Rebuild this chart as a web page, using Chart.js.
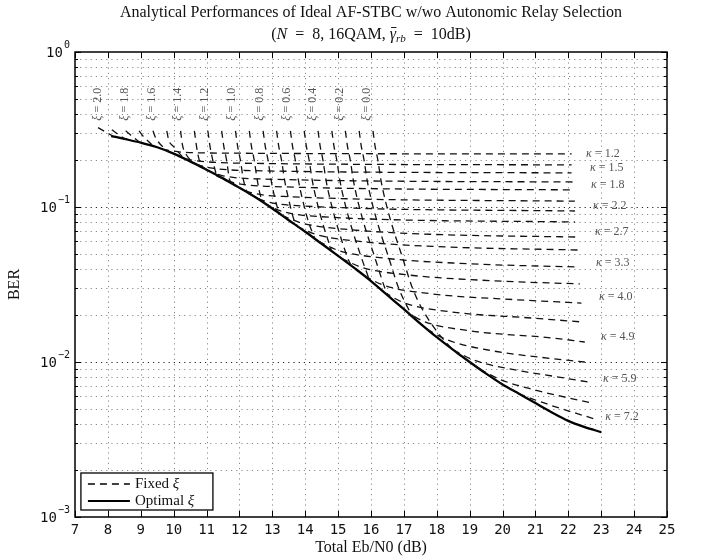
<!DOCTYPE html>
<html>
<head>
<meta charset="utf-8">
<script src="https://cdn.jsdelivr.net/npm/chart.js@4.4.0/dist/chart.umd.min.js"></script>
<style>
html, body { margin: 0; padding: 0; background: #fff; }
</style>
</head>
<body>
<canvas id="berChart" width="713" height="557"></canvas>
<script>
// axis ranges
var xMin = 7, xMax = 25;
var yMin = 0.001, yMax = 1;
var xTickValues = [7, 8, 9, 10, 11, 12, 13, 14, 15, 16, 17, 18, 19, 20, 21, 22, 23, 24, 25];
var yDecades = [-3, -2, -1, 0];

// optimal xi curve
var optimalX   = [8.1, 8.5, 9, 9.5, 10, 10.5, 11, 11.5, 12, 12.5, 13, 13.5, 14, 14.5, 15, 15.5, 16, 16.5, 17, 17.5, 18, 18.5, 19, 19.5, 20, 20.5, 21, 21.5, 22, 22.5, 23];
var optimalBer = [0.287, 0.275, 0.260, 0.243, 0.221, 0.197, 0.174, 0.153, 0.133, 0.115, 0.0977, 0.0822, 0.0692, 0.0579, 0.0484, 0.0403, 0.0333, 0.0270, 0.0219, 0.0177, 0.01445, 0.01197, 0.0100, 0.00841, 0.00716, 0.00624, 0.00543, 0.00473, 0.00417, 0.0038, 0.00353];

// constant kappa curves (fixed xi mesh, rows)
var kappaX = [
  [9.65, 10.15, 11.15, 22.1],
  [10.35, 10.85, 11.85, 22.1],
  [10.68, 11.18, 12.18, 22.1],
  [11.0, 11.5, 12.5, 22.15],
  [11.3, 11.8, 12.8, 22.15],
  [11.85, 12.35, 13.35, 22.2],
  [12.25, 12.75, 13.75, 22.2],
  [12.75, 13.25, 14.25, 22.2],
  [13.3, 13.9, 15.3, 17.8, 22.25],
  [13.75, 14.35, 15.75, 18.25, 22.3],
  [14.4, 15.0, 16.4, 18.9, 22.3],
  [15.1, 15.7, 17.1, 19.6, 22.35],
  [15.8, 16.4, 17.8, 20.3, 22.4],
  [16.4, 17.0, 18.4, 20.9, 22.45],
  [17.0, 17.6, 19.0, 21.5, 22.5],
  [17.7, 18.3, 19.7, 21.2, 22.5],
  [18.5, 19.1, 20.5, 21.6, 22.6],
  [19.3, 19.9, 21.0, 22.7],
  [19.85, 20.45, 21.35, 22.8]
];
var kappaBer = [
  [0.236, 0.227, 0.223, 0.220],
  [0.204, 0.197, 0.192, 0.187],
  [0.188, 0.178, 0.172, 0.166],
  [0.172, 0.159, 0.152, 0.145],
  [0.159, 0.144, 0.136, 0.129],
  [0.138, 0.124, 0.117, 0.109],
  [0.123, 0.1095, 0.102, 0.0942],
  [0.106, 0.0944, 0.0872, 0.080],
  [0.088, 0.0787, 0.0716, 0.0667, 0.064],
  [0.075, 0.0663, 0.0597, 0.0553, 0.0528],
  [0.060, 0.0525, 0.0468, 0.0431, 0.041],
  [0.0467, 0.0409, 0.0365, 0.0335, 0.0319],
  [0.0359, 0.0312, 0.0276, 0.0253, 0.024],
  [0.0282, 0.0241, 0.0211, 0.0192, 0.0181],
  [0.0216, 0.0183, 0.0159, 0.0143, 0.01346],
  [0.0163, 0.01394, 0.0118, 0.0107, 0.0100],
  [0.0120, 0.01034, 0.00879, 0.00806, 0.00743],
  [0.00902, 0.00775, 0.00659, 0.00544],
  [0.0075, 0.00634, 0.00536, 0.00429]
];

// constant xi curves (fixed xi mesh, columns), xi = 2.0 ... 0.0 step 0.1
var xiX = [
  [7.70, 8.15],
  [8.12, 8.30, 8.55],
  [8.54, 8.70, 9.00],
  [8.95, 9.05, 9.40],
  [9.37, 9.45, 9.85],
  [9.79, 9.85, 10.0, 10.3],
  [10.21, 10.27, 10.4, 10.65],
  [10.63, 10.69, 10.78, 11.0],
  [11.04, 11.10, 11.19, 11.30],
  [11.46, 11.52, 11.61, 11.70, 11.80],
  [11.88, 11.94, 12.03, 12.12, 12.23],
  [12.30, 12.36, 12.45, 12.54, 12.65, 12.75],
  [12.72, 12.78, 12.87, 12.96, 13.07, 13.2],
  [13.13, 13.19, 13.28, 13.37, 13.48, 13.68, 13.78],
  [13.55, 13.61, 13.70, 13.79, 13.90, 14.10, 14.30],
  [13.97, 14.03, 14.12, 14.21, 14.32, 14.52, 14.80],
  [14.39, 14.45, 14.54, 14.63, 14.74, 14.94, 15.29, 15.4],
  [14.81, 14.87, 14.96, 15.05, 15.16, 15.36, 15.71, 15.95],
  [15.22, 15.28, 15.37, 15.46, 15.57, 15.77, 16.12, 16.42, 16.5],
  [15.64, 15.70, 15.79, 15.88, 15.99, 16.19, 16.54, 16.84, 17.19, 17.3],
  [16.06, 16.12, 16.21, 16.30, 16.41, 16.61, 16.96, 17.26, 17.61, 18.41, 19.31]
];
var xiBer = [
  [0.325, 0.287],
  [0.315, 0.295, 0.272],
  [0.31, 0.29, 0.258],
  [0.31, 0.29, 0.245],
  [0.31, 0.28, 0.226],
  [0.31, 0.27, 0.245, 0.207],
  [0.31, 0.25, 0.215, 0.19],
  [0.31, 0.25, 0.20, 0.172],
  [0.31, 0.25, 0.20, 0.160],
  [0.31, 0.25, 0.20, 0.15, 0.141],
  [0.31, 0.25, 0.20, 0.15, 0.124],
  [0.31, 0.25, 0.20, 0.15, 0.116, 0.106],
  [0.31, 0.25, 0.20, 0.15, 0.116, 0.0912],
  [0.31, 0.25, 0.20, 0.15, 0.116, 0.08, 0.075],
  [0.31, 0.25, 0.20, 0.15, 0.116, 0.08, 0.062],
  [0.31, 0.25, 0.20, 0.15, 0.116, 0.08, 0.052],
  [0.31, 0.25, 0.20, 0.15, 0.116, 0.08, 0.047, 0.0418],
  [0.31, 0.25, 0.20, 0.15, 0.116, 0.08, 0.047, 0.0339],
  [0.31, 0.25, 0.20, 0.15, 0.116, 0.08, 0.047, 0.03, 0.0272],
  [0.31, 0.25, 0.20, 0.15, 0.116, 0.08, 0.047, 0.03, 0.021, 0.0192],
  [0.31, 0.25, 0.20, 0.15, 0.116, 0.08, 0.047, 0.03, 0.021, 0.0125, 0.0090]
];

// text annotations
var kappaLabels   = ['1.2', '1.5', '1.8', '2.2', '2.7', '3.3', '4.0', '4.9', '5.9', '7.2'];
var kappaLabelX   = [23.05, 23.17, 23.2, 23.26, 23.32, 23.35, 23.44, 23.5, 23.56, 23.63];
var kappaLabelBer = [0.220, 0.178, 0.139, 0.101, 0.0689, 0.0437, 0.0263, 0.0145, 0.0078, 0.00446];
var xiLabels   = ['2.0', '1.8', '1.6', '1.4', '1.2', '1.0', '0.8', '0.6', '0.4', '0.2', '0.0'];
var xiLabelX   = [7.70, 8.52, 9.34, 10.13, 10.95, 11.77, 12.62, 13.44, 14.23, 15.05, 15.87];
var xiLabelBer = 0.46;
var legendLabels = ['Fixed ', 'Optimal '];

var serif = '"Liberation Serif", "DejaVu Serif", serif';
var mono = '"DejaVu Sans Mono", monospace';

function toPoints(xs, ys) {
  var pts = [];
  for (var i = 0; i < xs.length; i++) pts.push({x: xs[i], y: ys[i]});
  return pts;
}

var datasets = [];
kappaX.forEach(function(xs, j) {
  datasets.push({label: 'kappa' + j, data: toPoints(xs, kappaBer[j]), borderColor: '#111', borderWidth: 1.3,
    borderDash: [7, 5], pointRadius: 0, fill: false, cubicInterpolationMode: 'monotone'});
});
xiX.forEach(function(xs, i) {
  datasets.push({label: 'xi' + i, data: toPoints(xs, xiBer[i]), borderColor: '#111', borderWidth: 1.3,
    borderDash: [7, 5], pointRadius: 0, fill: false, cubicInterpolationMode: 'monotone'});
});
datasets.push({label: 'Optimal', data: toPoints(optimalX, optimalBer), borderColor: '#000', borderWidth: 2.3,
  pointRadius: 0, fill: false, cubicInterpolationMode: 'monotone'});

function line(ctx, x1, y1, x2, y2) {
  ctx.beginPath(); ctx.moveTo(x1, y1); ctx.lineTo(x2, y2); ctx.stroke();
}

function drawRich(ctx, parts, x, y, align) {
  var w = 0;
  parts.forEach(function(p) { ctx.font = p.font; p.w = ctx.measureText(p.text).width; w += p.w; });
  var cx = align === 'center' ? x - w / 2 : (align === 'right' ? x - w : x);
  ctx.textAlign = 'left';
  ctx.textBaseline = 'middle';
  parts.forEach(function(p) {
    ctx.font = p.font;
    ctx.fillText(p.text, cx, y + (p.dy || 0));
    if (p.bar) {
      ctx.save(); ctx.lineWidth = 0.9; ctx.setLineDash([]);
      line(ctx, cx + 1.5, y - 7.5, cx + p.w + 0.5, y - 7.5);
      ctx.restore();
    }
    cx += p.w;
  });
  return w;
}

var decorPlugin = {
  id: 'decor',
  beforeDatasetsDraw: function(chart) {
    var ctx = chart.ctx, xs = chart.scales.x, ys = chart.scales.y, a = chart.chartArea;
    ctx.save();
    ctx.lineWidth = 1;
    ctx.setLineDash([1.2, 4]);
    ctx.strokeStyle = '#8a8a8a';
    xTickValues.forEach(function(v) {
      if (v <= xMin || v >= xMax) return;
      var px = Math.round(xs.getPixelForValue(v)) + 0.5;
      line(ctx, px, a.top, px, a.bottom);
    });
    yDecades.forEach(function(d) {
      for (var m = 1; m <= 9; m++) {
        var v = m * Math.pow(10, d);
        if (v <= yMin || v >= yMax) continue;
        var py = Math.round(ys.getPixelForValue(v)) + 0.5;
        ctx.strokeStyle = m === 1 ? '#222' : '#8a8a8a';
        line(ctx, a.left, py, a.right, py);
      }
    });
    ctx.restore();
  },
  afterDatasetsDraw: function(chart) {
    var ctx = chart.ctx, xs = chart.scales.x, ys = chart.scales.y;
    ctx.save();
    ctx.fillStyle = '#555';
    kappaLabels.forEach(function(t, k) {
      drawRich(ctx, [
        {text: '\u03ba', font: 'italic 12px ' + serif},
        {text: ' = ' + t, font: '12px ' + serif}
      ], xs.getPixelForValue(kappaLabelX[k]), ys.getPixelForValue(kappaLabelBer[k]), 'center');
    });
    xiLabels.forEach(function(t, k) {
      ctx.save();
      ctx.translate(xs.getPixelForValue(xiLabelX[k]), ys.getPixelForValue(xiLabelBer));
      ctx.rotate(-Math.PI / 2);
      drawRich(ctx, [
        {text: '\u03be', font: 'italic 12px ' + serif},
        {text: ' = ' + t, font: '12px ' + serif}
      ], 0, 0, 'center');
      ctx.restore();
    });
    ctx.restore();
  },
  afterDraw: function(chart) {
    var ctx = chart.ctx, xs = chart.scales.x, ys = chart.scales.y, a = chart.chartArea;
    ctx.save();
    ctx.strokeStyle = '#000';
    ctx.fillStyle = '#000';
    ctx.lineWidth = 1.5;
    ctx.setLineDash([]);
    ctx.strokeRect(a.left, a.top, a.right - a.left, a.bottom - a.top);

    // ticks
    ctx.lineWidth = 1;
    xTickValues.forEach(function(v) {
      var px = Math.round(xs.getPixelForValue(v)) + 0.5;
      line(ctx, px, a.bottom, px, a.bottom - 6);
      line(ctx, px, a.top, px, a.top + 6);
    });
    yDecades.forEach(function(d) {
      for (var m = 1; m <= 9; m++) {
        var v = m * Math.pow(10, d);
        if (v < yMin || v > yMax) continue;
        var py = Math.round(ys.getPixelForValue(v)) + 0.5;
        var len = m === 1 ? 6 : 3;
        line(ctx, a.left, py, a.left + len, py);
        line(ctx, a.right, py, a.right - len, py);
      }
    });

    // tick labels
    ctx.fillStyle = '#111';
    ctx.font = '14px ' + mono;
    ctx.textAlign = 'center';
    ctx.textBaseline = 'middle';
    xTickValues.forEach(function(v) {
      ctx.fillText(String(v), xs.getPixelForValue(v), a.bottom + 13);
    });
    yDecades.forEach(function(d) {
      var py = ys.getPixelForValue(Math.pow(10, d));
      var expText = d === 0 ? '0' : '\u2212' + (-d);
      ctx.font = '10px ' + mono;
      var ew = ctx.measureText(expText).width;
      ctx.textAlign = 'left';
      ctx.fillText(expText, a.left - 5 - ew, py - 7);
      ctx.font = '14px ' + mono;
      ctx.textAlign = 'right';
      ctx.fillText('10', a.left - 6 - ew, py + 1);
    });

    // axis titles
    ctx.fillStyle = '#111';
    ctx.font = '16px ' + serif;
    ctx.textAlign = 'center';
    ctx.fillText('Total Eb/N0 (dB)', (a.left + a.right) / 2, a.bottom + 31);
    ctx.save();
    ctx.translate(15, (a.top + a.bottom) / 2);
    ctx.rotate(-Math.PI / 2);
    ctx.fillText('BER', 0, 0);
    ctx.restore();

    // title
    var cx = (a.left + a.right) / 2;
    ctx.font = '16px ' + serif;
    ctx.textAlign = 'center';
    ctx.fillText('Analytical Performances of Ideal AF-STBC w/wo Autonomic Relay Selection', cx, 13);
    drawRich(ctx, [
      {text: '(', font: '16px ' + serif},
      {text: 'N', font: 'italic 16px ' + serif},
      {text: '\u2002=\u2002' + '8, 16QAM, ', font: '16px ' + serif},
      {text: '\u03b3', font: 'italic 16px ' + serif, bar: true},
      {text: 'rb', font: 'italic 11px ' + serif, dy: 4},
      {text: '\u2002=\u2002' + '10dB)', font: '16px ' + serif}
    ], cx, 35, 'center');

    // legend
    var lx = xs.getPixelForValue(7.18), ly = 473, lw = 132, lh = 37;
    ctx.fillStyle = '#fff';
    ctx.fillRect(lx, ly, lw, lh);
    ctx.lineWidth = 1.3;
    ctx.strokeStyle = '#000';
    ctx.strokeRect(lx, ly, lw, lh);
    ctx.fillStyle = '#111';
    legendLabels.forEach(function(t, k) {
      var yy = ly + 11 + k * 17;
      ctx.setLineDash(k === 0 ? [7, 5] : []);
      ctx.lineWidth = k === 0 ? 1.3 : 1.8;
      line(ctx, lx + 7, yy, lx + 49, yy);
      ctx.setLineDash([]);
      drawRich(ctx, [
        {text: t, font: '15px ' + serif},
        {text: '\u03be', font: 'italic 15px ' + serif}
      ], lx + 54, yy, 'left');
    });
    ctx.restore();
  }
};

var ctx = document.getElementById('berChart').getContext('2d');
var berChart = new Chart(ctx, {
  type: 'line',
  data: { datasets: datasets },
  options: {
    responsive: false,
    animation: false,
    devicePixelRatio: 1,
    events: [],
    layout: { padding: { left: 75, right: 46, top: 52, bottom: 40 } },
    plugins: {
      legend: { display: false },
      title: { display: false },
      tooltip: { enabled: false }
    },
    scales: {
      x: { type: 'linear', min: xMin, max: xMax, display: false },
      y: { type: 'logarithmic', min: yMin, max: yMax, display: false }
    }
  },
  plugins: [decorPlugin]
});
</script>
</body>
</html>
